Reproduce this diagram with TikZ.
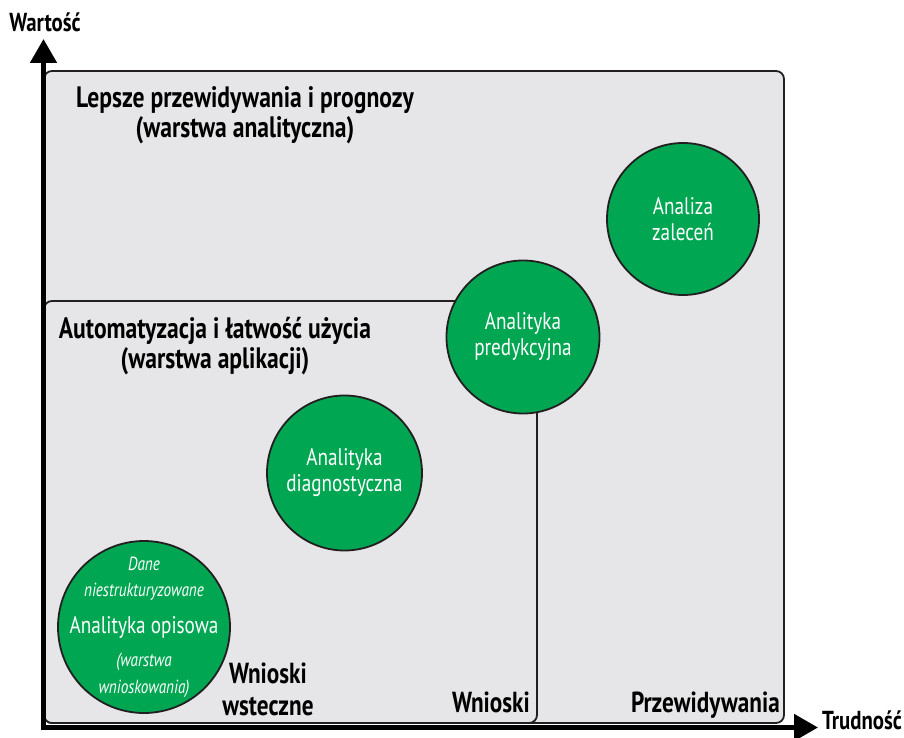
\documentclass[tikz,border=0pt]{standalone}
\usepackage{fontspec}
\setmainfont{PT Sans}[FakeStretch=0.8]
\usetikzlibrary{arrows.meta}
\definecolor{panelfill}{HTML}{E6E6E8}
\definecolor{inkline}{HTML}{231F20}
\definecolor{leafgreen}{HTML}{00A651}
\newcommand\titlefnt{\bfseries\fontsize{29.5}{30}\selectfont}
\newcommand\lblfnt{\bfseries\fontsize{29}{32}\selectfont}
\newcommand\circfnt{\fontsize{24}{26}\selectfont}
\newcommand\smallitfnt{\itshape\fontsize{19}{21}\selectfont}
\newcommand\axisfnt{\bfseries\fontsize{26}{28}\selectfont}
\begin{document}
\begin{tikzpicture}[x=1pt,y=-1pt,
  panel/.style={draw=inkline, line width=1.8pt, fill=panelfill, rounded corners=8pt},
  bubble/.style={circle, draw=inkline, line width=1.8pt, fill=leafgreen, text=white,
    align=center, inner sep=0pt, font=\circfnt},
  bubbletext/.style={align=center, inner sep=0pt, text=white, font=\circfnt},
  axisline/.style={line width=5pt, black,
    {Triangle[length=24pt,width=26pt]}-{Triangle[length=24pt,width=26pt]}},
  heading/.style={align=center, inner sep=0pt, font=\titlefnt, text=black},
  lbl/.style={align=center, inner sep=0pt, font=\lblfnt, text=black},
  axlbl/.style={inner sep=0pt, font=\axisfnt, text=black}]
\useasboundingbox (0,0) rectangle (904,738);
\fill[white] (0,0) rectangle (904,738);
% panels
\draw[panel] (44,71) rectangle (784,723);
\draw[panel] (44,301) rectangle (537,723);
% axes
\coordinate (ytip) at (43.5,39);
\coordinate (xtip) at (818,727.5);
\draw[axisline] (ytip) |- (xtip);
\node[axlbl, anchor=base] (ylab) at (45,32) {Wartość};
\node[axlbl, anchor=base west] (xlab) at (822,729) {Trudność};
% headings
\node[heading] (top) at (245,115) {Lepsze przewidywania i prognozy\\(warstwa analityczna)};
\node[heading] (app) at (215,346) {Automatyzacja i łatwość użycia\\(warstwa aplikacji)};
% bottom labels
\node[lbl] (hind) at (268,689) {Wnioski\\wsteczne};
\node[lbl, anchor=base east] (insight) at (530,712) {Wnioski};
\node[lbl, anchor=base east] (fore) at (780,712) {Przewidywania};
% circles
\node[bubble, minimum size=172pt,
  label={[bubbletext]center:{{\smallitfnt Dane}\\{\smallitfnt niestrukturyzowane}\\[11pt]Analityka opisowa\\[7pt]{\smallitfnt (warstwa}\\[1pt]{\smallitfnt wnioskowania)}}}]
  (desc) at (144,627) {};
\node[bubble, minimum size=155pt] (diag) at (344.5,473) {Analityka\\diagnostyczna};
\node[bubble, minimum size=153pt] (pred) at (523,337) {Analityka\\predykcyjna};
\node[bubble, minimum size=152pt] (presc) at (683,219) {Analiza\\zaleceń};
\end{tikzpicture}
\end{document}
